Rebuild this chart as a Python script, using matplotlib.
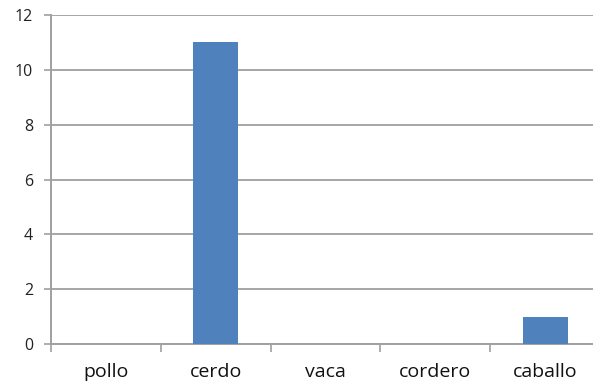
import matplotlib
matplotlib.use("Agg")
import matplotlib.pyplot as plt
from matplotlib.patches import Rectangle

categories = ["pollo", "cerdo", "vaca", "cordero", "caballo"]
values = [0, 11, 0, 0, 1]
y_ticks = [0, 2, 4, 6, 8, 10, 12]

plt.rcParams['font.family'] = ['Open Sans', 'DejaVu Sans']

fig = plt.figure(figsize=(6, 3.85), dpi=100)
ax = fig.add_axes([0.085, 0.1065, 0.915, 0.8545])

x = range(len(categories))
ax.bar(x, values, width=0.41, color="#4F81BD", zorder=3)

ax.set_xlim(-0.5, len(categories) - 0.5)
ax.set_ylim(0, 12)
ax.set_yticks(y_ticks)
ax.set_yticklabels([str(t) for t in y_ticks], fontsize=11.5, color="#222222")

# category labels centred, tick marks at category boundaries
ax.set_xticks(list(x))
ax.set_xticklabels(categories, fontsize=14, color="#111111")
ax.tick_params(axis="x", which="major", length=0, pad=14)
ax.set_xticks([i - 0.5 for i in range(len(categories) + 1)], minor=True)
ax.tick_params(axis="x", which="minor", length=6, width=1.2, color="#A0A0A0")
ax.tick_params(axis="y", length=5, width=1.2, color="#A0A0A0", pad=8)

ax.yaxis.grid(True, color="#A6A6A6", linewidth=1.4, zorder=0)
for side in ["top", "right"]:
    ax.spines[side].set_visible(False)
for side in ["left", "bottom"]:
    ax.spines[side].set_color("#A0A0A0")
    ax.spines[side].set_linewidth(1.4)

# white margin strip along the right edge of the figure
fig.patches.append(Rectangle((593 / 600, 0), 1 - 593 / 600, 1,
                             transform=fig.transFigure, facecolor="white",
                             edgecolor="none", zorder=10))

fig.savefig("out.png", dpi=100)
